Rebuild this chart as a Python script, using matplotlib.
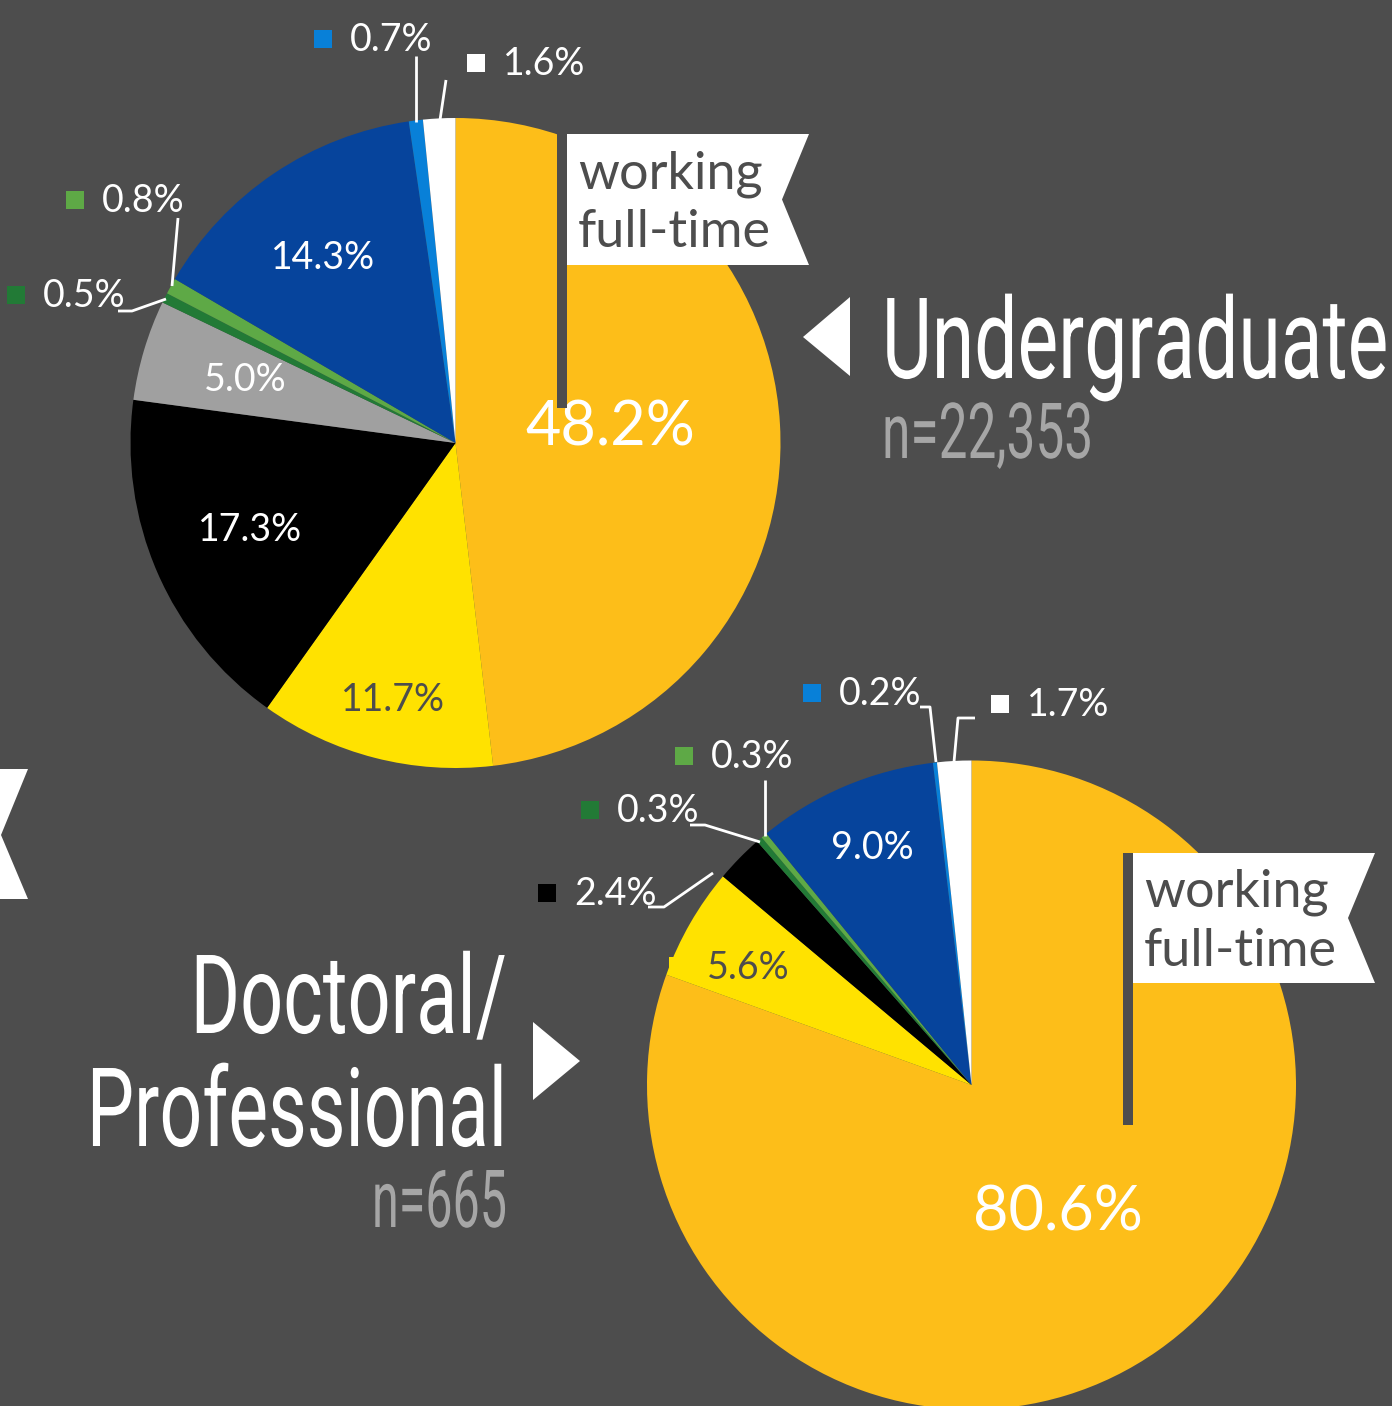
import matplotlib
matplotlib.use("Agg")
import matplotlib.pyplot as plt
from matplotlib.patches import Polygon, Rectangle
from matplotlib.patheffects import AbstractPathEffect
from matplotlib.transforms import Affine2D, Bbox
from matplotlib.text import Text

# ---------------- data ----------------
categories = ["working full-time", "outcome 2", "outcome 3", "outcome 4", "outcome 5",
              "outcome 6", "outcome 7", "outcome 8", "outcome 9"]
undergrad_pct = [48.2, 11.7, 17.3, 5.0, 0.5, 0.8, 14.3, 0.7, 1.6]
doctoral_pct = [80.6, 5.6, 2.4, 0.0, 0.3, 0.3, 9.0, 0.2, 1.7]
undergrad_title = "Undergraduate"
undergrad_n = "n=22,353"
doctoral_title = ["Doctoral/", "Professional"]
doctoral_n = "n=665"
flag_lines = ["working", "full-time"]

# ---------------- style ----------------
BG = "#4d4d4d"
NGRAY = "#a6a6a6"
colors = ["#fdbe19", "#ffe200", "#000000", "#a0a0a0", "#227a36",
          "#5ea946", "#06449c", "#0880d8", "#ffffff"]
FONT = "Lato"

W, H = 1392, 1406
fig = plt.figure(figsize=(W / 100, H / 100), dpi=100, facecolor=BG)
ax = fig.add_axes([0, 0, 1, 1])
ax.set_facecolor(BG)

# pies (y axis is inverted afterwards: startangle -90 + counterclock -> clockwise from top)
pie_layout = [
    dict(values=undergrad_pct, center=(455.5, 443), radius=325),
    dict(values=doctoral_pct, center=(971.5, 1085), radius=324.5),
]
for p in pie_layout:
    ax.pie(p["values"], colors=colors, startangle=-90, counterclock=True,
           center=p["center"], radius=p["radius"], frame=True,
           wedgeprops=dict(linewidth=0))

ax.set_xlim(0, W)
ax.set_ylim(H, 0)
ax.set_aspect("equal")
ax.axis("off")

# inner labels: (pie values, index, x, y, size, color)
inner = [
    (undergrad_pct, 0, 610, 428, 44, "white"),
    (undergrad_pct, 6, 323, 258, 27, "white"),
    (undergrad_pct, 3, 245, 380, 27, "white"),
    (undergrad_pct, 2, 250, 530, 27, "white"),
    (undergrad_pct, 1, 393, 700, 27, BG),
    (doctoral_pct, 0, 1058, 1213, 44, "white"),
    (doctoral_pct, 6, 872, 848, 27, "white"),
    (doctoral_pct, 1, 748, 968, 27, BG),
]
for vals, i, x, y, fs, c in inner:
    ax.text(x, y, f"{vals[i]:.1f}%", ha="center", va="center", fontsize=fs,
            color=c, family=FONT, zorder=5)

# outside labels: (values, index, square_left, y_center, leader points)
outside = [
    (undergrad_pct, 7, 314, 39, [(416, 56), (416, 122)]),
    (undergrad_pct, 8, 467, 63, [(446, 80), (440, 120)]),
    (undergrad_pct, 5, 66, 200, [(178, 218), (172, 286)]),
    (undergrad_pct, 4, 7, 295, [(118, 311), (132, 311), (166, 299)]),
    (doctoral_pct, 7, 803, 693, [(920, 707), (930, 707), (936, 762)]),
    (doctoral_pct, 8, 991, 704, [(975, 718), (958, 718), (954, 762)]),
    (doctoral_pct, 5, 675, 756, [(765, 780), (765, 836)]),
    (doctoral_pct, 4, 581, 810, [(690, 825), (705, 825), (760, 842)]),
    (doctoral_pct, 2, 538, 893, [(648, 907), (664, 907), (713, 873)]),
]
for vals, i, sx, yc, pts in outside:
    ax.add_patch(Rectangle((sx, yc - 9), 18, 18, facecolor=colors[i], lw=0, zorder=6))
    ax.text(sx + 36, yc + 1, f"{vals[i]:.1f}%", ha="left", va="center", fontsize=27,
            color="white", family=FONT, zorder=6)
    xs, ys = zip(*pts)
    ax.plot(xs, ys, color="white", lw=2, zorder=6, solid_capstyle="butt")

# hidden yellow marker beside the 5.6% slice
ax.add_patch(Rectangle((669, 957), 8, 18, facecolor=colors[1], lw=0, zorder=1))

# flags
def flag(px, top, pole_bottom, right, notch_depth, bottom, tx, baselines):
    ax.add_patch(Rectangle((px, top), 10, pole_bottom - top, facecolor=BG, lw=0, zorder=7))
    mid = (top + bottom) / 2
    ax.add_patch(Polygon([(px + 10, top), (right, top), (right - notch_depth, mid),
                          (right, bottom), (px + 10, bottom)],
                         closed=True, facecolor="white", lw=0, zorder=7))
    for line, by in zip(flag_lines, baselines):
        ax.text(tx, by, line, ha="left", va="baseline", fontsize=37.5,
                color=BG, family=FONT, zorder=8)

flag(557, 134, 408, 809, 27, 265, 578, (188, 247))
flag(1123, 853, 1125, 1375, 27, 983, 1144, (907, 966))

# triangles & ribbon tail
ax.add_patch(Polygon([(803, 337), (850, 297), (850, 376)], facecolor="white", lw=0))
ax.add_patch(Polygon([(533, 1022), (533, 1100), (580, 1061)], facecolor="white", lw=0))
ax.add_patch(Polygon([(0, 769), (28, 769), (1, 835), (28, 899), (0, 899)],
                     facecolor="white", lw=0))


# tall condensed-looking titles: real text, glyphs stretched vertically about the baseline
class VStretch(AbstractPathEffect):
    def __init__(self, sy, y0):
        super().__init__()
        self.sy, self.y0 = sy, y0

    def draw_path(self, renderer, gc, tpath, affine, rgbFace=None):
        t = affine + Affine2D().translate(0, -self.y0).scale(1, self.sy).translate(0, self.y0)
        renderer.draw_path(gc, tpath, t, rgbFace)


class TallText(Text):
    def __init__(self, *args, **kwargs):
        super().__init__(*args, **kwargs)
        self._sy = 1.0

    def _anchor_y(self):
        return self.get_transform().transform(self.get_unitless_position())[1]

    def get_window_extent(self, renderer=None, dpi=None):
        bb = super().get_window_extent(renderer, dpi)
        y0, s = self._anchor_y(), self._sy
        return Bbox([[bb.x0, y0 + (bb.y0 - y0) * s], [bb.x1, y0 + (bb.y1 - y0) * s]])

    def draw(self, renderer):
        self.set_path_effects([VStretch(self._sy, self._anchor_y())])
        super().draw(renderer)


titles = [
    # text, anchor x, baseline y, ha, cap height px, target width px, color
    (undergrad_title, 882, 378, "left", 80, 506, "white"),
    (undergrad_n, 882, 458, "left", 55, 211, NGRAY),
    (doctoral_title[0], 507, 1033, "right", 78, 316, "white"),
    (doctoral_title[1], 507, 1146, "right", 78, 420, "white"),
    (doctoral_n, 507, 1227, "right", 57, 135, NGRAY),
]
TFONT = "Roboto"
CAP = 0.711
tobjs = []
for s, x, y, ha, cap, tw, c in titles:
    t = TallText(x, y, s, ha=ha, va="baseline", fontsize=40, color=c, family=TFONT)
    ax.add_artist(t)
    tobjs.append((t, cap, tw))

fig.canvas.draw()
r = fig.canvas.get_renderer()
for t, cap, tw in tobjs:
    w = Text.get_window_extent(t, r).width
    fs = 40 * tw / w
    t.set_fontsize(fs)
    t._sy = cap / (CAP * fs * 100 / 72)

fig.savefig("out.png", dpi=100, facecolor=BG)
